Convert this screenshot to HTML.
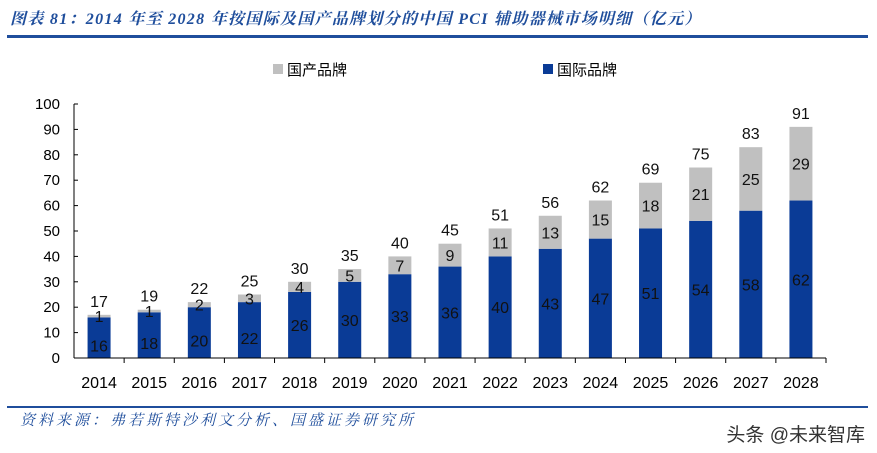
<!DOCTYPE html>
<html><head><meta charset="utf-8"><style>
body{margin:0;background:#fff;width:877px;height:453px;overflow:hidden;position:relative;font-family:"Liberation Sans","Noto Sans CJK SC",sans-serif}
.t{position:absolute;left:10px;top:6px;font-size:16px;letter-spacing:1.3px;font-style:italic;font-weight:bold;color:#1f4e9c;font-family:"Liberation Serif","Noto Serif CJK SC",serif;white-space:nowrap}
.l1{position:absolute;left:7px;top:35px;width:861px;height:3px;background:#1f4e9c}
.l2{position:absolute;left:7px;top:406px;width:861px;height:2px;background:#1f4e9c}
.src{position:absolute;left:20px;top:409px;font-size:15px;letter-spacing:3px;font-style:italic;color:#1f4e9c;font-family:"Liberation Serif","Noto Serif CJK SC",serif;white-space:nowrap}
.wm{position:absolute;right:12px;top:420px;font-size:19px;color:#333}
</style></head><body>
<div class="t">图表 81：2014 年至 2028 年按国际及国产品牌划分的中国 PCI 辅助器械市场明细（亿元）</div>
<div class="l1"></div>
<svg id="c" width="877" height="453" style="position:absolute;left:0;top:0"></svg>
<div class="l2"></div>
<div class="src">资料来源：弗若斯特沙利文分析、国盛证券研究所</div>
<div class="wm">头条 @未来智库</div>
<script>
const years=["2014","2015","2016","2017","2018","2019","2020","2021","2022","2023","2024","2025","2026","2027","2028"];
const intl=[16,18,20,22,26,30,33,36,40,43,47,51,54,58,62];
const dom=[1,1,2,3,4,5,7,9,11,13,15,18,21,25,29];
const totals=[17,19,22,25,30,35,40,45,51,56,62,69,75,83,91];
const yTicks=[0,10,20,30,40,50,60,70,80,90,100];
const NS="http://www.w3.org/2000/svg",svg=document.getElementById('c');
const x0=74,x1=826,y0=358,y1=104,bw=23;
const step=(x1-x0)/years.length;
const xc=i=>x0+step*(i+0.5);
const y=v=>y0-(v/100)*(y0-y1);
function mk(t,a,txt){const e=document.createElementNS(NS,t);for(const k in a)e.setAttribute(k,a[k]);if(txt!=null)e.textContent=txt;svg.appendChild(e);return e;}
const F='"Liberation Sans","DejaVu Sans",sans-serif';
yTicks.forEach(v=>{
 const e=mk('text',{x:60,y:y(v)+5,'text-anchor':'end','font-size':15,'font-family':F,fill:'#000'},v);
 
 
 mk('line',{x1:x0,x2:x0+4,y1:y(v),y2:y(v),stroke:'#000'});
});
years.forEach((yr,i)=>{
 const cx=xc(i);
 const b=mk('rect',{x:cx-bw/2,y:y(intl[i]),width:bw,height:y0-y(intl[i]),fill:'#0a3b96'});
 
 
 const g=mk('rect',{x:cx-bw/2,y:y(intl[i]+dom[i]),width:bw,height:y(intl[i])-y(intl[i]+dom[i]),fill:'#c0c0c0'});
 
 
 const li=mk('text',{x:cx,y:(y(intl[i])+y0)/2+6+(i<4?8:0),'text-anchor':'middle','font-size':16,'font-family':F,fill:'#111'},intl[i]);
 
 
 const ld=mk('text',{x:cx,y:(y(intl[i]+dom[i])+y(intl[i]))/2+6,'text-anchor':'middle','font-size':16,'font-family':F,fill:'#111'},dom[i]);
 
 
 const lt=mk('text',{x:cx,y:y(totals[i])-8,'text-anchor':'middle','font-size':16,'font-family':F,fill:'#111'},totals[i]);
 
 
 const xl=mk('text',{x:cx,y:388,'text-anchor':'middle','font-size':16,'font-family':F,fill:'#000'},yr);
 
 
 mk('line',{x1:x0+step*(i+1),x2:x0+step*(i+1),y1:y0,y2:y0+5,stroke:'#000'});
});
mk('line',{x1:x0,x2:x0,y1:y1,y2:y0,stroke:'#000'});
mk('line',{x1:x0,x2:x1,y1:y0,y2:y0,stroke:'#000'});
const l1=mk('rect',{x:273,y:64,width:10,height:10,fill:'#c0c0c0'});

const t1=mk('text',{x:287,y:75,'font-size':15,'font-family':'"Noto Sans CJK SC",sans-serif',fill:'#000'},'国产品牌');

const l2=mk('rect',{x:543,y:64,width:10,height:10,fill:'#0a3b96'});

const t2=mk('text',{x:557,y:75,'font-size':15,'font-family':'"Noto Sans CJK SC",sans-serif',fill:'#000'},'国际品牌');

</script>
</body></html>
